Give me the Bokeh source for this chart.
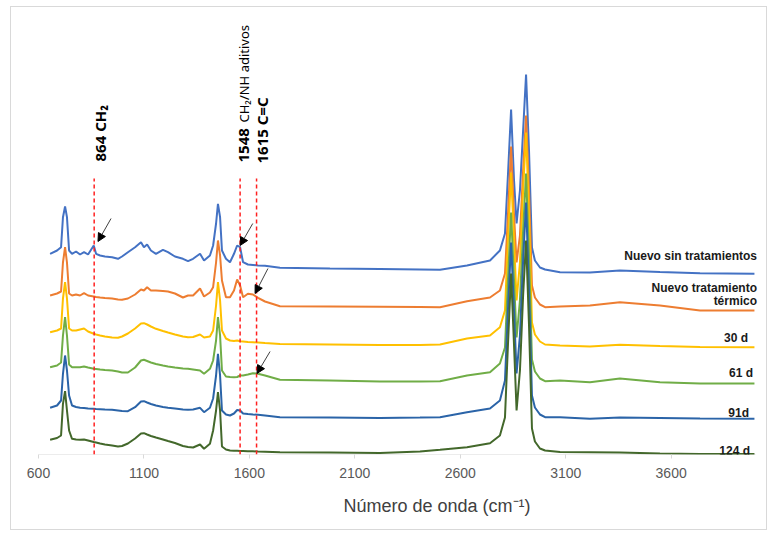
import math
from bokeh.plotting import figure
from bokeh.models import Range1d, FixedTicker, Label, Arrow, NormalHead, Title
from bokeh.embed import file_html
from bokeh.resources import INLINE

# ---------------- data ----------------
wavenumber = [655, 688, 707, 716, 726, 735, 745, 759, 778, 797,
              816, 835, 862, 873, 892, 915, 949, 977, 996, 1024,
              1058, 1086, 1100, 1115, 1133, 1157, 1190, 1214, 1247, 1285,
              1309, 1333, 1366, 1385, 1413, 1428, 1442, 1451, 1461, 1470,
              1489, 1508, 1527, 1542, 1556, 1570, 1593, 1617, 1641, 1674,
              1745, 1982, 2219, 2409, 2504, 2632, 2741, 2788, 2812, 2826,
              2841, 2855, 2867, 2883, 2898, 2912, 2926, 2940, 2954, 2978,
              3002, 3073, 3215, 3357, 3547, 3737, 3995]

nuevo_sin_trat = [200.7, 204, 207.3, 237.3, 248, 237.3, 204, 200.7, 203, 200,
                  202.3, 200, 209, 200.7, 199, 198, 197.3, 195.7, 198, 202.3,
                  207.3, 212.3, 207.3, 210, 204, 200.7, 204.7, 202.3, 198, 195.7,
                  193.3, 195.7, 200.7, 194, 199, 209, 231, 250.7, 237.3, 204,
                  195.7, 192.3, 200.7, 209, 207.3, 192.3, 190, 189.5, 189, 188.7,
                  186.7, 186, 185.5, 185, 184.7, 189, 194, 204, 221, 279,
                  345, 274, 231, 264, 324, 380, 304, 207, 194, 187,
                  185, 182.3, 182, 184, 182.5, 181.3, 180.7]

nuevo_trat_termico = [159, 161, 163, 192, 207.3, 192, 161, 159, 160, 159,
                      161.3, 159, 158, 157.5, 157, 156.5, 156, 155, 154.7, 156,
                      160, 165, 164, 167.3, 164, 164, 163.5, 163, 161, 157,
                      159, 159, 166, 158, 162, 167.3, 192, 214, 199, 174,
                      157.3, 157.3, 164, 175, 169, 157.3, 160.7, 160, 156.7, 153,
                      148.3, 148, 147.7, 147.5, 147.3, 153.3, 157, 164, 181, 239,
                      308, 239, 192, 219, 284, 339, 264, 169, 157, 150,
                      147.3, 148, 149, 152.3, 149, 144, 144]

dias_30 = [122.3, 124, 126, 156, 172.3, 156, 126, 124, 124, 125,
           126, 123, 120.7, 120, 119, 118, 117, 116.7, 118, 121,
           126, 131, 131.3, 130, 128, 125.7, 123.5, 122, 120, 118,
           117.3, 117.5, 120, 117, 118, 124, 149, 172.3, 154, 124,
           116, 114, 113.5, 114, 113.3, 113, 112.5, 112.3, 112, 111.5,
           110.5, 110, 109.5, 109.5, 110, 116, 119, 127.3, 144, 214,
           282, 214, 154, 192, 264, 322, 239, 132, 120, 113,
           110, 109, 108, 109.7, 108.5, 107.5, 107.3]

dias_61 = [87.3, 89, 92, 119, 137.3, 119, 90, 87.3, 87.3, 87.3,
           88, 87, 85.7, 85.5, 85, 84.5, 84, 83, 82, 82,
           87, 94, 94.7, 93.5, 92, 90.5, 89, 88, 87, 86,
           85.7, 85, 84, 80.7, 85.7, 94, 114, 137.3, 119, 84,
           78, 77.5, 77.3, 77.5, 79, 79, 80, 81.3, 80.7, 79,
           74.7, 74, 73, 73, 73.3, 79, 82.3, 91, 107, 174,
           242, 174, 117, 154, 224, 281, 199, 95, 83, 76,
           73.3, 74, 72.3, 76, 72.3, 71, 71]

dias_91 = [46.7, 49, 54, 80.7, 99, 84, 59, 49, 47.5, 46.7,
           46.5, 46, 45.7, 45.5, 45.3, 45, 44.7, 44, 43.5, 43.3,
           47.3, 53, 53.3, 52, 50.5, 49, 47.5, 46.7, 46, 45,
           44.7, 45, 46.7, 42.3, 46.7, 56, 79, 100.7, 79, 44,
           40, 39, 41, 44.5, 44, 41, 40.5, 40, 39.7, 39,
           37.3, 37, 36.5, 37, 37.3, 42.3, 46, 54, 74, 144,
           212, 144, 81, 119, 194, 252, 164, 59, 47, 40,
           37.3, 37.3, 35.7, 37, 36.5, 36, 35.7]

dias_124 = [14.7, 16.5, 19, 50.7, 63.3, 44, 24, 15.7, 15, 14.7,
            15, 14, 12.5, 12, 11, 10, 9, 8, 8.5, 11,
            16, 21, 21.3, 20, 18.5, 17, 15, 13.5, 11.5, 8.5,
            7.5, 7, 10, 5.7, 10.7, 24, 44, 62.3, 44, 8,
            5, 4, 3.8, 3.7, 3.5, 3.5, 3.3, 3.3, 3, 2.8,
            2.3, 2, 1.5, 3, 4.7, 7.3, 11.3, 19, 37, 109,
            181, 109, 44, 84, 159, 214, 129, 26, 13, 6,
            4, 2.5, 2.3, 2, 1, 0.5, 0.5]

series_values = [nuevo_sin_trat, nuevo_trat_termico, dias_30, dias_61, dias_91, dias_124]
series_colors = ["#4472C4", "#ED7D31", "#FFC000", "#70AD47", "#2B64A8", "#43682B"]

x_ticks = [600, 1100, 1600, 2100, 2600, 3100, 3600]
x_min, x_max = 600, 4000

# marked bands (position of dashed lines as drawn)
band_lines = [864, 1556, 1634]
band_line_top = 276

# ---------------- figure ----------------
# frame: 600 at page x 38, 4000 at page x 755; the frame is extended to the
# right edge so the right-hand labels fit inside it
px_per_unit = 717 / (x_max - x_min)
p = figure(width=757, height=524,
           x_range=Range1d(x_min, x_min + 730 / px_per_unit), y_range=Range1d(0, 434),
           output_backend="svg", toolbar_location=None,
           min_border_left=27, min_border_right=0, min_border_top=13, min_border_bottom=77)
p.styles = {"margin-left": "10px", "margin-top": "6px", "border": "1px solid #d9d9d9"}
p.outline_line_color = None
p.grid.visible = False
p.yaxis.visible = False
p.background_fill_color = "white"
p.border_fill_color = "white"

xa = p.xaxis[0]
xa.ticker = FixedTicker(ticks=x_ticks)
xa.axis_line_color = None
xa.major_tick_line_color = "#d9d9d9"
xa.major_tick_out = 4
xa.major_tick_in = 0
xa.minor_tick_line_color = None
xa.major_label_text_font = "Liberation Sans"
xa.major_label_text_font_size = "14px"
xa.major_label_text_color = "#595959"
xa.major_label_standoff = 9

# visible axis line only over the data span
p.segment(x0=[x_min], y0=[0], x1=[x_max], y1=[0], line_color="#d9d9d9", line_width=1)

# spectra
for vals, col in zip(series_values, series_colors):
    p.line(wavenumber, vals, line_color=col, line_width=2)

# dashed marker lines
p.segment(x0=band_lines, y0=[0] * len(band_lines), x1=band_lines,
          y1=[band_line_top] * len(band_lines),
          line_color="#FF2020", line_dash="4 3", line_width=1.5)

# arrows
arrows = [((944, 236), (882, 213)),
          ((1616, 231), (1556, 209)),
          ((1688, 186), (1627, 161)),
          ((1698, 103), (1636, 81))]
for (xs, ys), (xe, ye) in arrows:
    p.add_layout(Arrow(end=NormalHead(size=8, fill_color="black", line_color="black", line_width=1),
                       x_start=xs, y_start=ys, x_end=xe, y_end=ye,
                       line_color="#404040", line_width=1))

# rotated band labels
def rlabel(x, y, text, size, bold=True):
    p.add_layout(Label(x=x, y=y, text=text, angle=math.pi / 2,
                       text_align="left", text_baseline="alphabetic",
                       text_font="Noto Sans", text_font_style="bold" if bold else "normal",
                       text_font_size=size, text_color="black"))

rlabel(892, 293, "864 CH\u2082", "15px")
rlabel(1574, 292, "1548", "15px")
rlabel(1574, 332, "CH\u2082/NH aditivos", "13px", bold=False)
rlabel(1660, 291, "1615 C=C", "15px")

# series labels on the right
series_labels = ["Nuevo sin tratamientos", "Nuevo tratamiento", "térmico",
                 "30 d", "61 d", "91d", "124 d"]
label_x = [4007, 4007, 4007, 3965, 3988, 3969, 3974]
label_y = [199, 167, 154, 117, 82, 42, 4]
for t, lx, ly in zip(series_labels, label_x, label_y):
    p.add_layout(Label(x=lx, y=ly, text=t, text_align="right", text_baseline="middle",
                       text_font="Liberation Sans", text_font_style="bold",
                       text_font_size="12px", text_color="#1a1a1a"))

# axis title (below the axis, placed right of centre as in the original)
p.add_layout(Title(text="Número de onda (cm\u207b\u00b9)", align="left", offset=305,
                   standoff=27, text_font="Liberation Sans", text_font_size="18px",
                   text_font_style="normal", text_color="#404040"), "below")

open("out.html", "w").write(file_html(p, INLINE))
